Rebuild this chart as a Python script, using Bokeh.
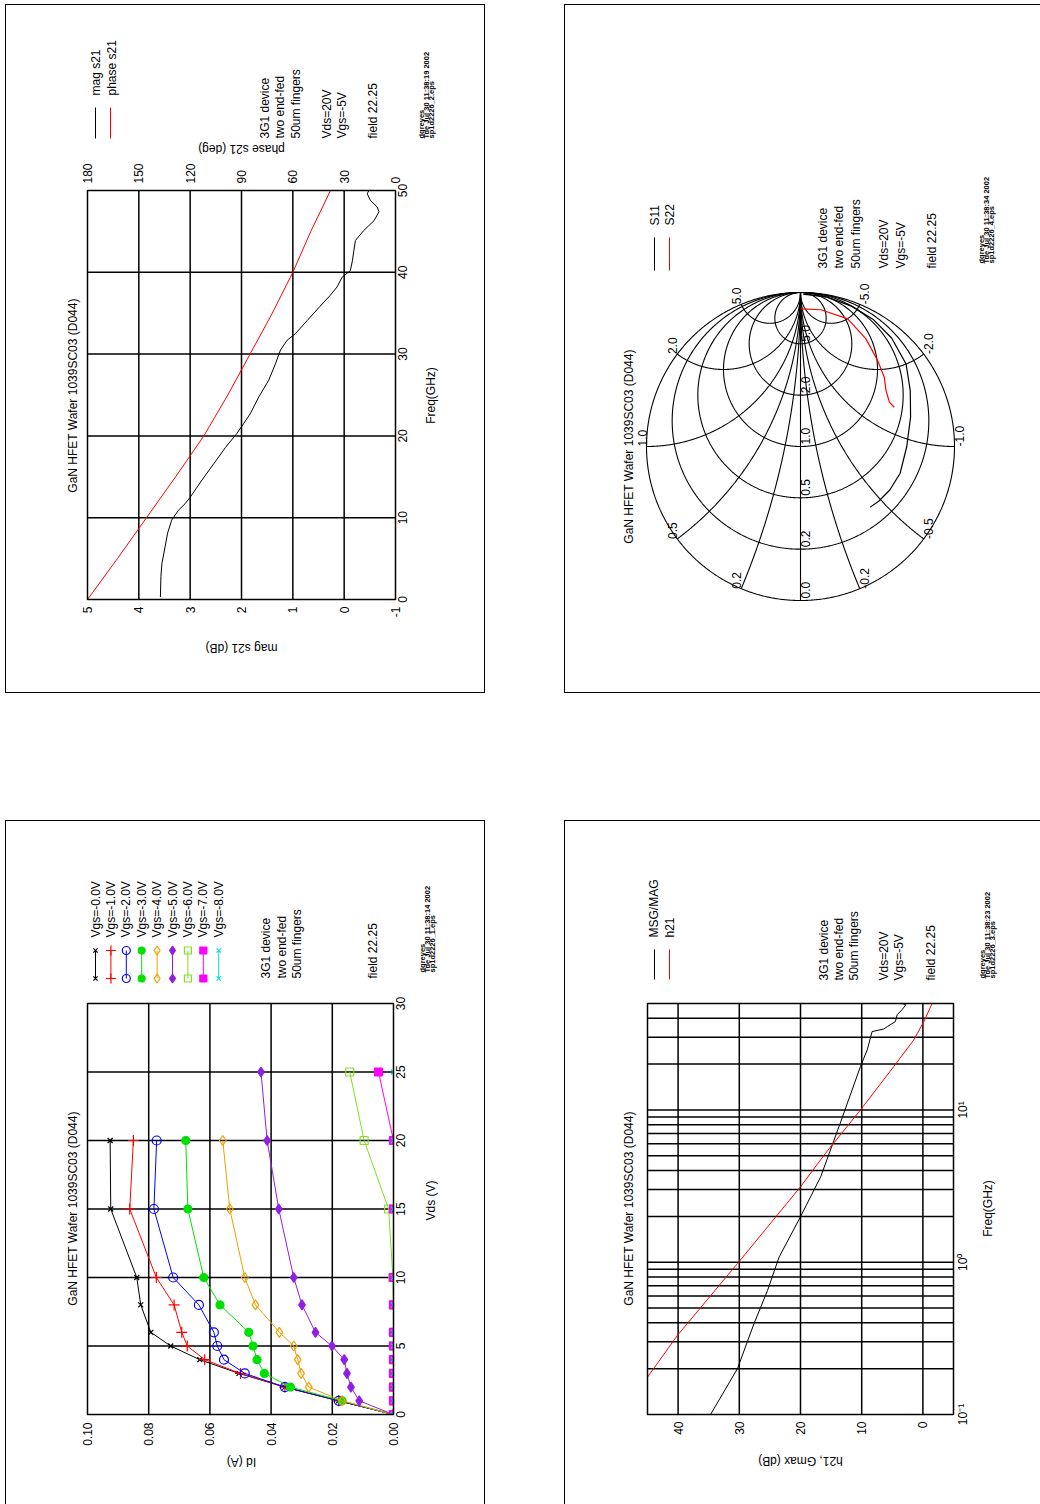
import numpy as np
from math import pi
from bokeh.plotting import figure
from bokeh.models import Range1d, LogScale, Spacer
from bokeh.layouts import row, column
from bokeh.embed import file_html
from bokeh.resources import INLINE
from bokeh.core.properties import value

FONT = "Liberation Sans"
FS = "12px"
GRID_W = 1.5
TITLE = "GaN HFET Wafer 1039SC03 (D044)"
DEVICE = ["3G1 device", "two end-fed", "50um fingers"]
BIAS = ["Vds=20V", "Vgs=-5V"]
FIELD = "field 22.25"

# ---------------- S21 magnitude / phase vs frequency ----------------
s21_freq = [0.3, 2.8, 4.4, 6.4, 8.1, 9.7, 10.9, 11.7, 12.5, 14.6, 16.6, 18.6, 20.3,
            21.5, 22.7, 24.8, 26.8, 28.8, 30.5, 31.7, 32.5, 34.1, 35.7, 37.2, 38.2,
            39.4, 40.2, 41.4, 42.7, 43.9, 45.1, 46.3, 47.4, 48.0, 48.8, 49.6, 50.0]
s21_mag_db = [3.58, 3.57, 3.55, 3.49, 3.44, 3.36, 3.23, 3.10, 3.00, 2.77, 2.54, 2.31,
              2.09, 1.96, 1.83, 1.66, 1.47, 1.34, 1.24, 1.11, 0.95, 0.72, 0.49, 0.27,
              0.14, 0.04, -0.12, -0.16, -0.19, -0.22, -0.38, -0.58, -0.68, -0.64,
              -0.51, -0.45, -0.48]
s21_phase_freq = [0, 5, 10, 15, 20, 25, 30, 35, 40, 45, 50]
s21_phase_deg = [180, 162.5, 145.5, 128.5, 112, 98, 85, 72, 60, 49.5, 38]
mag_ticks = [5, 4, 3, 2, 1, 0, -1]
phase_ticks = [180, 150, 120, 90, 60, 30, 0]
freq_ticks = [0, 10, 20, 30, 40, 50]

# ---------------- S11 / S22 (linear magnitude, angle in degrees) ----------------
s11_mag = [0.99, 0.985, 0.97, 0.95, 0.92, 0.87, 0.80, 0.74, 0.69, 0.67, 0.645, 0.62, 0.60]
s11_ang = [-1, -10, -20, -30, -40, -52, -63, -75, -90, -105, -116, -125, -131]
s22_mag = [0.894, 0.898, 0.884, 0.818, 0.75, 0.706, 0.664, 0.645, 0.66]
s22_ang = [-0.2, -8.5, -20.3, -31.3, -41.9, -50.4, -56.7, -63.5, -67.3]
smith_r = [0, 0.2, 0.5, 1, 2, 5]
smith_x = [0.2, 0.5, 1, 2, 5]

# ---------------- Id vs Vds family ----------------
vds_a = [0, 1, 2, 3, 4, 5, 6, 8, 10, 15, 20]
vds_b = [0, 1, 2, 3, 4, 5, 6, 8, 10, 15, 20, 25]
vgs_names = ["Vgs=-0.0V", "Vgs=-1.0V", "Vgs=-2.0V", "Vgs=-3.0V", "Vgs=-4.0V",
             "Vgs=-5.0V", "Vgs=-6.0V", "Vgs=-7.0V", "Vgs=-8.0V"]
id_vgs0 = [0, 0.0179, 0.0355, 0.0505, 0.0633, 0.0728, 0.0793, 0.0826, 0.0839, 0.0924, 0.0926]
id_vgs1 = [0, 0.0179, 0.0355, 0.0500, 0.0617, 0.0674, 0.0692, 0.0717, 0.0775, 0.0862, 0.0850]
id_vgs2 = [0, 0.0179, 0.0355, 0.0486, 0.0554, 0.0576, 0.0587, 0.0636, 0.0720, 0.0783, 0.0774]
id_vgs3 = [0, 0.0168, 0.0337, 0.0422, 0.0446, 0.0459, 0.0473, 0.0567, 0.0620, 0.0672, 0.0679]
id_vgs4 = [0, 0.0168, 0.0277, 0.0302, 0.0313, 0.0326, 0.0373, 0.0451, 0.0486, 0.0535, 0.0558]
id_vgs5 = [0, 0.0112, 0.0139, 0.0152, 0.0161, 0.0201, 0.0255, 0.0299, 0.0326, 0.0375, 0.0413, 0.0433]
id_vgs6 = [0, 0, 0, 0, 0, 0, 0, 0, 0.0002, 0.0016, 0.0096, 0.0143]
id_vgs7 = [0, 0, 0, 0, 0, 0, 0, 0, 0, 0, 0.0, 0.0049]
id_vgs8 = [0, 0, 0, 0, 0, 0, 0, 0, 0, 0, 0, 0]
id_ticks = [0.10, 0.08, 0.06, 0.04, 0.02, 0.00]
vds_ticks = [0, 5, 10, 15, 20, 25, 30]

# ---------------- MSG/MAG and h21 vs frequency ----------------
msg_freq = [0.1, 0.2, 0.395, 0.65, 1.08, 1.99, 3.64, 8.2, 19.3, 24.8, 32.7, 34.0, 35.3,
            38.0, 42.2, 45.5, 49.0, 50.0]
msg_db = [34.7, 30.3, 27.6, 25.4, 23.5, 20.0, 16.7, 13.5, 10.2, 9.1, 8.3, 6.4, 5.8,
          4.5, 4.2, 3.4, 2.8, 3.4]
h21_freq = [0.176, 0.331, 0.98, 3.13, 5.2, 10.0, 19.3, 28.8, 38.0, 50.0]
h21_db = [45.0, 40.1, 30.3, 20.0, 15.9, 10.2, 4.75, 1.5, -0.15, -1.5]
gain_ticks = [40, 30, 20, 10, 0]
gain_lim = [45, -5]
logf_lim = [0.1, 50]
logf_ticks = [0.1, 1, 10]
logf_labels = ["10\u207b\u00b9", "10\u2070", "10\u00b9"]


class Panel:
    """One page tile: a figure whose frame is the whole tile, drawn in page
    pixels, with named data ranges that put each plot area where it belongs."""

    def __init__(self, box, shadow):
        bx, by, bw, bh = box
        self.box = box
        p = figure(width=bw, height=bh, x_range=Range1d(bx, bx + bw), y_range=Range1d(by + bh, by),
                   output_backend="svg", toolbar_location=None, title_location=None,
                   x_axis_location=None, y_axis_location=None, min_border=0)
        p.min_border_left = p.min_border_right = p.min_border_top = p.min_border_bottom = 0
        p.grid.visible = False
        p.outline_line_color = None
        p.background_fill_color = None
        p.border_fill_color = None
        p.styles = {"box-shadow": shadow}
        self.p = p
        self.xr, self.yr, self.ys = {}, {}, {}

    def data_range(self, name, dim, v0, px0, v1, px1, log=False):
        bx, by, bw, bh = self.box
        q0, q1 = (bx, bx + bw) if dim == "x" else (by + bh, by)
        a0, a1 = (np.log10(v0), np.log10(v1)) if log else (v0, v1)
        k = (a1 - a0) / (px1 - px0)
        s, e = a0 + (q0 - px0) * k, a0 + (q1 - px0) * k
        if log:
            s, e = 10 ** s, 10 ** e
        rng = Range1d(float(s), float(e))
        if dim == "x":
            self.xr[name] = rng
            self.p.extra_x_ranges = dict(self.xr)
        else:
            self.yr[name] = rng
            self.p.extra_y_ranges = dict(self.yr)
            if log:
                self.ys[name] = LogScale()
                self.p.extra_y_scales = dict(self.ys)

    def text(self, X, Y, s, size=FS, align="left", baseline="middle", angle=pi / 2, style="normal"):
        self.p.text(x=[X], y=[Y], text=[s], angle=angle, text_align=align, text_baseline=baseline,
                    text_font=value(FONT), text_font_size=size, text_font_style=style,
                    text_color="black")

    def ticks(self, xs, ys, labels, xn, yn, align, baseline, xo=0, yo=0):
        self.p.text(x=xs, y=ys, text=labels, angle=pi / 2, text_align=align, text_baseline=baseline,
                    x_offset=xo, y_offset=yo, x_range_name=xn, y_range_name=yn,
                    text_font=value(FONT), text_font_size=FS, text_color="black")

    def grid(self, xn, yn, xlim, ylim, xg, yg):
        kw = dict(x_range_name=xn, y_range_name=yn, line_color="black", line_width=GRID_W)
        self.p.segment(x0=xg, x1=xg, y0=[ylim[0]] * len(xg), y1=[ylim[1]] * len(xg), **kw)
        self.p.segment(x0=[xlim[0]] * len(yg), x1=[xlim[1]] * len(yg), y0=yg, y1=yg, **kw)

    def outline(self, xn, yn, xlim, ylim):
        self.p.quad(left=[xlim[0]], right=[xlim[1]], bottom=[ylim[0]], top=[ylim[1]],
                    x_range_name=xn, y_range_name=yn, fill_color=None,
                    line_color="black", line_width=GRID_W)

    def legend_line(self, X, Y0, Y1, color):
        self.p.line([X, X], [Y0, Y1], color=color, line_width=1)

    def notes(self, cols, y0, lines, stamp_cols, stamp_y, stamp):
        for X, t in zip(cols, lines):
            self.text(X, y0, t)
        for X, t in zip(stamp_cols, stamp):
            self.text(X, stamp_y, t, size="7.5px", style="bold")


def fmt(vals, spec):
    return [format(v, spec) for v in vals]


# ======================= S21 vs frequency =======================
A = Panel((5, 4, 480, 689), "inset 0 0 0 1px #000")
A.data_range("mag", "x", 5, 87, -1, 395)
A.data_range("phase", "x", 180, 87, 0, 395)
A.data_range("freq", "y", 0, 599, 50, 190)
mag_lim, freq_lim = [5, -1], [0, 50]
A.grid("mag", "freq", mag_lim, freq_lim, mag_ticks[1:-1], freq_ticks[1:-1])
A.p.line(s21_mag_db, s21_freq, x_range_name="mag", y_range_name="freq", color="black", line_width=1)
A.p.line(s21_phase_deg, s21_phase_freq, x_range_name="phase", y_range_name="freq",
         color="red", line_width=1)
A.outline("mag", "freq", mag_lim, freq_lim)
A.ticks(mag_ticks, [0] * len(mag_ticks), fmt(mag_ticks, "d"), "mag", "freq", "right", "middle", yo=7)
A.ticks(phase_ticks, [50] * len(phase_ticks), fmt(phase_ticks, "d"), "phase", "freq", "left", "middle", yo=-7)
A.ticks([-1] * len(freq_ticks), freq_ticks, fmt(freq_ticks, "d"), "mag", "freq", "center", "top", xo=2)
A.text(72, 395, TITLE, align="center")
A.text(430, 395, "Freq(GHz)", align="center")
A.text(241, 647, "mag s21 (dB)", align="center", angle=pi)
A.text(241, 148, "phase s21 (deg)", align="center", angle=pi)
A.text(95, 95, "mag s21")
A.text(111, 95, "phase s21")
A.legend_line(95, 107, 138, "black")
A.legend_line(110, 107, 138, "red")
A.notes([264, 279, 295, 326, 341, 372], 138, DEVICE + BIAS + [FIELD],
        [421, 426, 431], 138, ["dgreyes", "Tue Jul 30 11:38:19 2002", "sp1d2226_2.eps"])

# ======================= Smith chart =======================
B = Panel((564, 4, 476, 689), "inset 1px 1px 0 0 #000, inset 0 -1px 0 0 #000")
B.data_range("gu", "x", -1, 646, 1, 954)
B.data_range("gv", "y", -1, 600, 1, 292)


def to_uv(z):
    g = (z - 1) / (z + 1)
    return -g.imag, g.real


gx, gy = [], []
t = np.linspace(-pi / 2 + 1e-4, pi / 2 - 1e-4, 721)
for r in smith_r:
    u, v = to_uv(r + 1j * np.tan(t))
    gx.append(list(u))
    gy.append(list(v))
s = np.linspace(0, pi / 2 - 1e-4, 400)
for xv in smith_x + [-x for x in smith_x]:
    u, v = to_uv(np.tan(s) + 1j * xv)
    gx.append(list(u))
    gy.append(list(v))
gx.append([0, 0])
gy.append([-1, 1])
B.p.multi_line(gx, gy, x_range_name="gu", y_range_name="gv", color="black", line_width=1.1)

for mags, angs, col in ((s11_mag, s11_ang, "black"), (s22_mag, s22_ang, "red")):
    g = np.array(mags) * np.exp(1j * np.radians(angs))
    B.p.line(list(-g.imag), list(g.real), x_range_name="gu", y_range_name="gv", color=col, line_width=1.2)

smith_text = dict(angle=pi / 2, text_align="left", x_range_name="gu", y_range_name="gv",
                  text_font=value(FONT), text_font_size=FS, text_color="black")
lu, lv = to_uv(1j * np.array(smith_x, dtype=float))
B.p.text(list(lu), list(lv), text=fmt(smith_x, ".1f"), text_baseline="bottom", **smith_text)
ru, rv = to_uv(-1j * np.array(smith_x, dtype=float))
B.p.text(list(ru), list(rv), text=["-" + v for v in fmt(smith_x, ".1f")], text_baseline="top", **smith_text)
rr = np.array(smith_r, dtype=float)
B.p.text([0.0] * len(smith_r), list((rr - 1) / (rr + 1)), text=fmt(smith_r, ".1f"),
         text_baseline="top", y_offset=-2, **smith_text)

B.text(628, 446, TITLE, align="center")
B.text(654, 225, "S11")
B.text(669, 225, "S22")
B.legend_line(654, 237, 270, "black")
B.legend_line(669, 237, 270, "red")
B.notes([822, 838, 855, 883, 900, 931], 268, DEVICE + BIAS + [FIELD],
        [981, 986, 991], 263, ["dgreyes", "Tue Jul 30 11:38:34 2002", "sp1d2226_4.eps"])

# ======================= Id vs Vds =======================
C = Panel((5, 820, 480, 684), "inset 1px 1px 0 0 #000, inset -1px 0 0 0 #000")
C.data_range("id", "x", 0.10, 87, 0.0, 393)
C.data_range("vds", "y", 0, 1414, 30, 1003)
id_lim, vds_lim = [0.10, 0.0], [0, 30]
C.grid("id", "vds", id_lim, vds_lim, id_ticks[1:-1], vds_ticks[1:-1])

family = [
    (id_vgs0, vds_a, "black", "x", False, 7),
    (id_vgs1, vds_a, "red", "cross", False, 11),
    (id_vgs2, vds_a, "blue", "circle", False, 9),
    (id_vgs3, vds_a, "#00e000", "circle", True, 8),
    (id_vgs4, vds_a, "#f0a000", "diamond", False, 10),
    (id_vgs5, vds_b, "#9020e0", "diamond", True, 10),
    (id_vgs6, vds_b, "#80e020", "square", False, 8),
    (id_vgs7, vds_b, "#ff00ff", "square", True, 8),
    (id_vgs8, vds_b, "#00e0e0", "x", False, 7),
]
for ids, vds, col, mk, filled, sz in family:
    C.p.line(ids, vds, x_range_name="id", y_range_name="vds", color=col, line_width=1)
    C.p.scatter(ids, vds, x_range_name="id", y_range_name="vds", marker=mk, size=sz,
                line_color=col, line_width=1.2, fill_color=col if filled else None)
# keep markers sitting on the plot edge inside the plot area
C.p.quad(left=[393.6, 80], right=[402, 393.6], top=[995, 1414.6], bottom=[1421, 1421],
         fill_color="white", line_color=None)
C.outline("id", "vds", id_lim, vds_lim)
C.ticks(id_ticks, [0] * len(id_ticks), fmt(id_ticks, ".2f"), "id", "vds", "right", "middle", yo=8)
C.ticks([0.0] * len(vds_ticks), vds_ticks, fmt(vds_ticks, "d"), "id", "vds", "center", "top", xo=2)
C.text(72, 1208, TITLE, align="center")
C.text(430, 1200, "Vds (V)", align="center")
C.text(241, 1461, "Id (A)", align="center", angle=pi)
for i, (name, (ids, vds, col, mk, filled, sz)) in enumerate(zip(vgs_names, family)):
    X = 95 + 15.4 * i
    C.text(X, 937, name)
    C.legend_line(X, 950, 978, col)
    C.p.scatter([X, X], [950, 978], marker=mk, size=sz - 1, line_color=col, line_width=1.2,
                fill_color=col if filled else None)
C.notes([265, 281, 296, 372], 978, DEVICE + [FIELD],
        [422, 427, 432], 972, ["dgreyes", "Tue Jul 30 11:38:14 2002", "sp1d2226_1.eps"])

# ======================= MSG/MAG and h21 =======================
D = Panel((564, 820, 476, 684), "inset 1px 1px 0 0 #000")
D.data_range("gain", "x", 45, 647, -5, 953)
D.data_range("f", "y", 0.1, 1414, 50, 1003, log=True)
log_lines = [m * d for d in (0.1, 1, 10) for m in range(1, 10) if logf_lim[0] < m * d < logf_lim[1]]
D.grid("gain", "f", gain_lim, logf_lim, gain_ticks, log_lines)
D.p.line(msg_db, msg_freq, x_range_name="gain", y_range_name="f", color="black", line_width=1)
D.p.line(h21_db, h21_freq, x_range_name="gain", y_range_name="f", color="red", line_width=1)
D.outline("gain", "f", gain_lim, logf_lim)
D.ticks(gain_ticks, [0.1] * len(gain_ticks), fmt(gain_ticks, "d"), "gain", "f", "right", "middle", yo=7)
D.ticks([-5] * len(logf_ticks), logf_ticks, logf_labels, "gain", "f", "center", "top", xo=2)
D.text(628, 1208, TITLE, align="center")
D.text(987, 1208, "Freq(GHz)", align="center")
D.text(800, 1460, "h21, Gmax (dB)", align="center", angle=pi)
D.text(653, 937, "MSG/MAG")
D.text(669, 937, "h21")
D.legend_line(654, 949, 979, "black")
D.legend_line(669, 949, 979, "red")
D.notes([823, 838, 853, 883, 898, 930], 980, DEVICE + BIAS + [FIELD],
        [982, 987, 992], 978, ["dgreyes", "Tue Jul 30 11:38:23 2002", "sp1d2226_3.eps"])

page = column(
    Spacer(width=1040, height=4),
    row(Spacer(width=5, height=689), A.p, Spacer(width=79, height=689), B.p),
    Spacer(width=1040, height=127),
    row(Spacer(width=5, height=684), C.p, Spacer(width=79, height=684), D.p),
)

open("out.html", "w").write(file_html(page, INLINE))
